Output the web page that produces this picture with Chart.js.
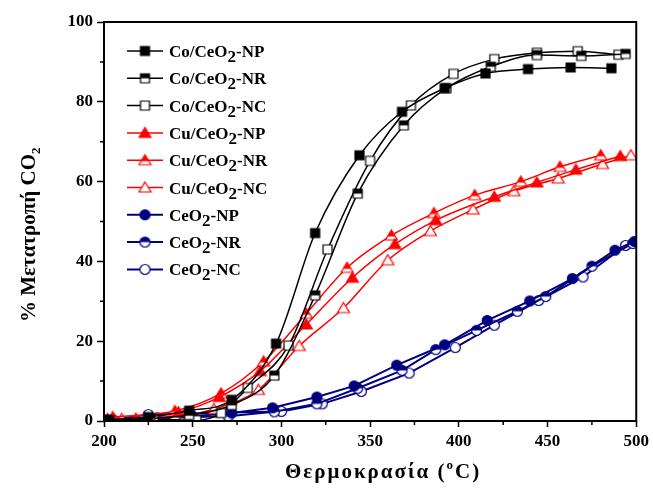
<!DOCTYPE html>
<html>
<head>
<meta charset="utf-8">
<script src="https://cdn.jsdelivr.net/npm/chart.js@4"></script>
<style>
  html, body { margin: 0; padding: 0; background: #fff; }
  #wrap { width: 653px; height: 488px; }
</style>
</head>
<body>
<div id="wrap"><canvas id="conv" width="653" height="488"></canvas></div>
<script>
// temperatures (°C) and CO2 conversion (%)
const coNP_T = [201, 225, 248, 272, 297, 319, 344, 368, 392, 415, 439, 463, 486];
const coNP_V = [0.3, 1.0, 2.6, 5.3, 19.4, 47.1, 66.6, 77.5, 83.4, 87.1, 88.2, 88.6, 88.4];
const coNR_T = [203, 226, 248, 272, 296, 319, 343, 369, 393, 418, 444, 469, 494];
const coNR_V = [0.2, 0.6, 1.5, 4.0, 11.4, 31.5, 57.0, 74.1, 83.4, 88.8, 91.7, 91.5, 92.0];
const coNC_T = [200, 228, 252, 266, 281, 304, 326, 350, 373, 397, 420, 444, 467, 490];
const coNC_V = [0.2, 0.4, 0.2, 2.0, 8.3, 18.9, 43.0, 65.2, 79.1, 87.0, 90.7, 92.3, 92.7, 91.8];

const cuNP_T = [202, 218, 242, 265, 288, 314, 340, 364, 387, 420, 444, 466, 491];
const cuNP_V = [0.5, 0.6, 2.2, 6.0, 12.5, 24.2, 35.9, 44.3, 50.3, 56.2, 59.8, 63.0, 66.4];
const cuNR_T = [205, 240, 266, 290, 314, 337, 362, 386, 409, 435, 457, 480];
const cuNR_V = [1.0, 2.5, 6.9, 14.9, 26.9, 38.4, 46.5, 52.1, 56.6, 60.0, 63.7, 66.6];
const cuNC_T = [210, 240, 262, 287, 310, 335, 360, 384, 408, 431, 456, 481, 497];
const cuNC_V = [0.5, 1.0, 3.0, 7.8, 18.8, 28.3, 40.3, 47.6, 53.0, 57.6, 60.8, 64.4, 66.6];

const ceNP_T = [205, 230, 250, 272, 295, 320, 341, 365, 392, 416, 440, 464, 488, 499];
const ceNP_V = [0.3, 0.8, 1.2, 2.0, 3.3, 6.0, 8.8, 14.0, 19.1, 25.2, 30.1, 35.7, 42.8, 45.0];
const ceNR_T = [202, 228, 250, 270, 296, 320, 343, 368, 387, 410, 433, 449, 475, 498];
const ceNR_V = [0.2, 0.5, 1.0, 1.2, 2.3, 4.3, 8.2, 12.7, 17.9, 22.7, 27.5, 31.2, 38.8, 44.5];
const ceNC_T = [200, 225, 247, 271, 300, 323, 345, 372, 398, 420, 445, 470, 494];
const ceNC_V = [0.0, 1.6, 1.8, 2.1, 2.4, 4.3, 7.4, 12.0, 18.4, 24.0, 30.2, 36.1, 44.0];

const xTicks = [200, 250, 300, 350, 400, 450, 500];
const yTicks = [0, 20, 40, 60, 80, 100];

const BLACK = '#000000', RED = '#ff0000', BLUE = '#000080';
const FONT = '"Liberation Serif", "Times New Roman", serif';

// marker images: fill = 'full' | 'half' | 'none'
function marker(shape, color, fill) {
  const c = document.createElement('canvas');
  c.width = 15; c.height = 15;
  const g = c.getContext('2d');
  const m = 7.5;
  function path() {
    g.beginPath();
    if (shape === 'square') g.rect(m - 4.5, m - 4.5, 9, 9);
    else if (shape === 'circle') g.arc(m, m, 5, 0, Math.PI * 2);
    else { g.moveTo(m, m - 5.5); g.lineTo(m + 6, m + 4.5); g.lineTo(m - 6, m + 4.5); g.closePath(); }
  }
  g.lineWidth = 1.2;
  path();
  g.fillStyle = fill === 'full' ? color : '#fff';
  g.fill();
  if (fill === 'half') {
    g.save();
    g.beginPath(); g.rect(0, 0, 15, shape === 'triangle' ? m + 1 : m); g.clip();
    path(); g.fillStyle = color; g.fill();
    g.restore();
  }
  path();
  g.strokeStyle = color;
  g.stroke();
  return c;
}

function pts(T, V) { return T.map((t, i) => ({ x: t, y: V[i] })); }

function series(label, sub, T, V, color, shape, fill, smooth) {
  return {
    label: label, labelEnd: sub,
    data: pts(T, V),
    showLine: true,
    borderColor: color,
    backgroundColor: color,
    borderWidth: color === BLUE ? 2 : 1.5,
    pointStyle: marker(shape, color, fill),
    cubicInterpolationMode: smooth ? 'monotone' : 'default',
    tension: 0
  };
}

const datasets = [
  series('Co/CeO', '-NP', coNP_T, coNP_V, BLACK, 'square', 'full', true),
  series('Co/CeO', '-NR', coNR_T, coNR_V, BLACK, 'square', 'half', true),
  series('Co/CeO', '-NC', coNC_T, coNC_V, BLACK, 'square', 'none', true),
  series('Cu/CeO', '-NP', cuNP_T, cuNP_V, RED, 'triangle', 'full', true),
  series('Cu/CeO', '-NR', cuNR_T, cuNR_V, RED, 'triangle', 'half', true),
  series('Cu/CeO', '-NC', cuNC_T, cuNC_V, RED, 'triangle', 'none', true),
  series('CeO', '-NP', ceNP_T, ceNP_V, BLUE, 'circle', 'full', false),
  series('CeO', '-NR', ceNR_T, ceNR_V, BLUE, 'circle', 'half', false),
  series('CeO', '-NC', ceNC_T, ceNC_V, BLUE, 'circle', 'none', false)
];

// text with a lowered/raised small part
function richText(g, x, y, parts, size) {
  parts.forEach(p => {
    const s = p.small ? Math.round(size * 0.6) : size;
    g.font = 'bold ' + s + 'px ' + FONT;
    g.fillText(p.t, x, y + (p.dy || 0));
    x += g.measureText(p.t).width;
  });
}
function richWidth(g, parts, size) {
  let w = 0;
  parts.forEach(p => {
    g.font = 'bold ' + (p.small ? Math.round(size * 0.6) : size) + 'px ' + FONT;
    w += g.measureText(p.t).width;
  });
  return w;
}

const decor = {
  id: 'decor',
  afterDraw(chart) {
    const g = chart.ctx, a = chart.chartArea;
    const xs = chart.scales.x, ys = chart.scales.y;
    g.save();
    // frame
    g.strokeStyle = '#000'; g.lineWidth = 2;
    g.strokeRect(a.left, a.top, a.right - a.left, a.bottom - a.top);
    // minor ticks
    g.lineWidth = 1.5;
    g.beginPath();
    for (let v = 225; v < 500; v += 50) {
      const px = xs.getPixelForValue(v);
      g.moveTo(px, a.bottom); g.lineTo(px, a.bottom + 4);
    }
    for (let v = 10; v < 100; v += 20) {
      const py = ys.getPixelForValue(v);
      g.moveTo(a.left, py); g.lineTo(a.left - 4, py);
    }
    g.stroke();

    // axis titles
    g.fillStyle = '#000';
    g.textBaseline = 'alphabetic';
    g.letterSpacing = '2px';
    const xt = [{ t: 'Θερμοκρασία (' }, { t: 'o', small: true, dy: -9 }, { t: 'C)' }];
    richText(g, 285, 478, xt, 21);
    g.letterSpacing = '0px';

    const yt = [{ t: '% Μετατροπή CO' }, { t: '2', small: true, dy: 5 }];
    g.save();
    g.translate(35, 322);
    g.rotate(-Math.PI / 2);
    richText(g, 0, 0, yt, 21);
    g.restore();

    // legend
    chart.data.datasets.forEach((d, i) => {
      const cy = 51 + i * 27.3;
      g.strokeStyle = d.borderColor; g.lineWidth = d.borderWidth;
      g.beginPath(); g.moveTo(127, cy); g.lineTo(163, cy); g.stroke();
      const img = d.pointStyle;
      g.drawImage(img, 145 - img.width / 2, cy - img.height / 2);
      g.fillStyle = '#000';
      richText(g, 169, cy + 6, [{ t: d.label }, { t: '2', small: false, dy: 5 }, { t: d.labelEnd }], 17);
    });
    g.restore();
  }
};

new Chart(document.getElementById('conv'), {
  type: 'scatter',
  data: { datasets: datasets },
  plugins: [decor],
  options: {
    responsive: false,
    animation: false,
    layout: { padding: { top: 22, right: 13, left: 0, bottom: 0 } },
    plugins: { legend: { display: false }, tooltip: { enabled: false } },
    scales: {
      x: {
        min: 200, max: 500,
        afterBuildTicks: s => { s.ticks = xTicks.map(v => ({ value: v })); },
        afterFit: s => { s.height = 67; },
        grid: { drawOnChartArea: false, drawTicks: true, tickLength: 6, color: '#000', tickWidth: 1.5 },
        border: { display: false },
        ticks: { color: '#000', padding: 4, maxRotation: 0, font: { family: FONT, size: 17, weight: 'bold' } }
      },
      y: {
        min: 0, max: 100,
        afterBuildTicks: s => { s.ticks = yTicks.map(v => ({ value: v })); },
        afterFit: s => { s.width = 104; },
        grid: { drawOnChartArea: false, drawTicks: true, tickLength: 7, color: '#000', tickWidth: 1.5 },
        border: { display: false },
        ticks: { color: '#000', padding: 4, font: { family: FONT, size: 17, weight: 'bold' } }
      }
    }
  }
});
</script>
</body>
</html>
